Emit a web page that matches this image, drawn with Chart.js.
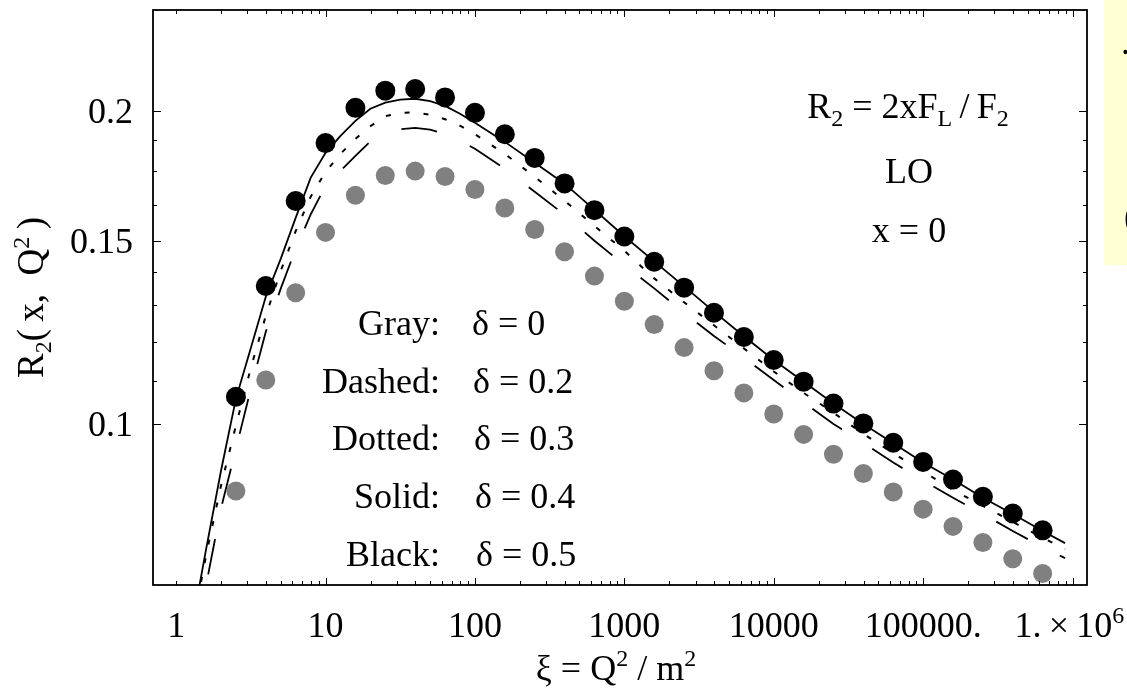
<!DOCTYPE html>
<html><head><meta charset="utf-8">
<script src="https://cdn.jsdelivr.net/npm/chart.js@4/dist/chart.umd.min.js"></script>
<style>html,body{margin:0;padding:0;background:#fff;}canvas{display:block;}</style>
</head><body>
<canvas id="c" width="1127" height="695"></canvas>
<script>
// ---- data ----
const dotXi = [2.512, 3.981, 6.310, 10, 15.85, 25.12, 39.81, 63.10, 100, 158.5, 251.2, 398.1, 631.0, 1000, 1585, 2512, 3981, 6310, 10000, 15850, 25120, 39810, 63100, 100000, 158500, 251200, 398100, 631000];
const blackR = [0.1062, 0.1357, 0.1638, 0.1862, 0.2013, 0.2091, 0.2099, 0.2060, 0.1991, 0.1899, 0.1802, 0.1703, 0.1605, 0.1514, 0.1432, 0.1352, 0.1279, 0.1212, 0.1152, 0.1098, 0.1046, 0.1001, 0.0959, 0.0919, 0.0884, 0.0851, 0.0820, 0.0790];
const grayR = [0.0862, 0.1102, 0.1337, 0.1528, 0.1659, 0.1733, 0.1750, 0.1729, 0.1680, 0.1613, 0.1538, 0.1464, 0.1387, 0.1312, 0.1246, 0.1184, 0.1125, 0.1071, 0.1022, 0.0977, 0.0935, 0.0896, 0.0860, 0.0828, 0.0797, 0.0769, 0.0742, 0.0718];
const lineXi = [1.318, 1.585, 1.995, 2.512, 3.162, 3.981, 5.012, 6.310, 7.943, 10, 12.59, 15.85, 19.95, 25.12, 31.62, 39.81, 50.12, 63.10, 79.43, 100, 158.5, 251.2, 398.1, 631.0, 1000, 1585, 2512, 3981, 6310, 10000, 15850, 25120, 39810, 63100, 100000, 158500, 251200, 398100, 631000, 891000];
const solidR = [0.0655, 0.0757, 0.0901, 0.1057, 0.1183, 0.1325, 0.1441, 0.1578, 0.1724, 0.1822, 0.1892, 0.1956, 0.2009, 0.2036, 0.2050, 0.2054, 0.2043, 0.2022, 0.1987, 0.1948, 0.1867, 0.1783, 0.1702, 0.1606, 0.1515, 0.1433, 0.1356, 0.1282, 0.1214, 0.1152, 0.1098, 0.1046, 0.1000, 0.0958, 0.0918, 0.0884, 0.0849, 0.0819, 0.0789, 0.0768];
const dottedR = [0.0649, 0.0747, 0.0872, 0.0996, 0.1132, 0.1270, 0.1403, 0.1532, 0.1653, 0.1747, 0.1818, 0.1880, 0.1933, 0.1976, 0.1991, 0.1993, 0.1982, 0.1963, 0.1935, 0.1899, 0.1818, 0.1728, 0.1639, 0.1550, 0.1467, 0.1380, 0.1309, 0.1244, 0.1182, 0.1123, 0.1071, 0.1025, 0.0978, 0.0937, 0.0900, 0.0864, 0.0834, 0.0805, 0.0777, 0.0758];
const dashedR = [0.0613, 0.0699, 0.0829, 0.0946, 0.1081, 0.1226, 0.1349, 0.1473, 0.1589, 0.1694, 0.1751, 0.1810, 0.1869, 0.1901, 0.1920, 0.1926, 0.1918, 0.1901, 0.1871, 0.1839, 0.1759, 0.1672, 0.1589, 0.1500, 0.1421, 0.1350, 0.1279, 0.1215, 0.1158, 0.1102, 0.1049, 0.1000, 0.0959, 0.0918, 0.0882, 0.0849, 0.0819, 0.0789, 0.0761, 0.0743];

const xTickValues = [1, 10, 100, 1000, 10000, 100000, 1000000];
const xTickLabels = ['1', '10', '100', '1000', '10000', '100000.', '1.\u2009×\u200910^6'];
const yTickValues = [0.1, 0.15, 0.2];
const yTickLabels = ['0.1', '0.15', '0.2'];
const yMinorTicks = [0.11, 0.12, 0.13, 0.14, 0.1625, 0.175, 0.1875];
const legendNames = ['Gray:', 'Dashed:', 'Dotted:', 'Solid:', 'Black:'];
const legendDeltas = ['0', '0.2', '0.3', '0.4', '0.5'];

// ---- helpers ----
const FONT = '"Liberation Serif", "DejaVu Serif", serif';
function rich(ctx, parts, x, y, align, size) {
  const big = size + 'px ' + FONT;
  const small = Math.round(size * 0.66) + 'px ' + FONT;
  let w = 0;
  parts.forEach(p => { ctx.font = p[1] ? small : big; w += ctx.measureText(p[0]).width; });
  let cx = align === 'center' ? x - w / 2 : (align === 'right' ? x - w : x);
  ctx.textAlign = 'left';
  ctx.textBaseline = 'alphabetic';
  parts.forEach(p => {
    ctx.font = p[1] ? small : big;
    const dy = p[1] === 'sub' ? size * 0.22 : (p[1] === 'sup' ? -size * 0.38 : 0);
    ctx.fillText(p[0], cx, y + dy);
    cx += ctx.measureText(p[0]).width;
  });
}

const decor = {
  id: 'decor',
  afterDraw(chart) {
    const ctx = chart.ctx, a = chart.chartArea;
    const xs = chart.scales.x, ys = chart.scales.y;
    ctx.save();
    ctx.fillStyle = '#000';
    ctx.strokeStyle = '#000';
    // ticks
    ctx.lineWidth = 1;
    ctx.beginPath();
    for (let d = 0; d <= 6; d++) {
      for (let m = 1; m <= 9; m++) {
        const v = m * Math.pow(10, d);
        if (v > xs.max) continue;
        const px = Math.round(xs.getPixelForValue(v)) + 0.5;
        const len = (m === 1 && d > 0) ? 7 : 4;
        ctx.moveTo(px, a.bottom); ctx.lineTo(px, a.bottom - len);
        ctx.moveTo(px, a.top); ctx.lineTo(px, a.top + len);
      }
    }
    yTickValues.forEach(v => {
      const py = Math.round(ys.getPixelForValue(v)) + 0.5;
      ctx.moveTo(a.left, py); ctx.lineTo(a.left + 8, py);
      ctx.moveTo(a.right, py); ctx.lineTo(a.right - 8, py);
    });
    yMinorTicks.forEach(v => {
      const py = Math.round(ys.getPixelForValue(v)) + 0.5;
      ctx.moveTo(a.left, py); ctx.lineTo(a.left + 4, py);
      ctx.moveTo(a.right, py); ctx.lineTo(a.right - 4, py);
    });
    ctx.stroke();
    // frame
    ctx.lineWidth = 1.8;
    ctx.strokeRect(a.left, a.top, a.right - a.left, a.bottom - a.top);

    // x tick labels
    xTickValues.forEach((v, i) => {
      const px = xs.getPixelForValue(v);
      const t = xTickLabels[i];
      if (t.indexOf('^') >= 0) {
        const [base, ex] = t.split('^');
        rich(ctx, [[base], [ex, 'sup']], px - 58, 637, 'left', 36);
      } else {
        rich(ctx, [[t]], px, 637, 'center', 36);
      }
    });
    // y tick labels
    yTickValues.forEach((v, i) => {
      const py = ys.getPixelForValue(v);
      rich(ctx, [[yTickLabels[i]]], 133, py + 12, 'right', 36);
    });
    // axis titles
    rich(ctx, [['ξ = Q'], ['2', 'sup'], [' / m'], ['2', 'sup']], (a.left + a.right) / 2 - 4, 680, 'center', 36);
    ctx.save();
    ctx.translate(43, (a.top + a.bottom) / 2);
    ctx.rotate(-Math.PI / 2);
    rich(ctx, [['R'], ['2', 'sub'], ['(\u2009x,  Q'], ['2', 'sup'], ['\u2009)']], 0, 0, 'center', 37);
    ctx.restore();

    // annotations
    rich(ctx, [['R'], ['2', 'sub'], [' = 2xF'], ['L', 'sub'], ['\u2009/\u2009F'], ['2', 'sub']], 908, 118, 'center', 36);
    rich(ctx, [['LO']], 909, 183, 'center', 36);
    rich(ctx, [['x = 0']], 909, 242, 'center', 36);

    // legend text
    legendNames.forEach((n, i) => {
      const by = 335 + i * 57.7;
      rich(ctx, [[n]], 440, by, 'right', 36);
      rich(ctx, [['δ = ' + legendDeltas[i]]], 472 + i, by, 'left', 36);
    });

    // clipped side panel
    ctx.fillStyle = '#FFFFD2';
    ctx.fillRect(1104, 0, 23, 265);
    ctx.fillStyle = '#000';
    rich(ctx, [['.']], 1121, 54, 'left', 36);
    rich(ctx, [['(']], 1124, 228, 'left', 36);
    ctx.restore();
  }
};

new Chart(document.getElementById('c'), {
  type: 'scatter',
  data: {
    datasets: [
      { label: 'Black', data: dotXi.map((x, i) => ({ x, y: blackR[i] })), backgroundColor: '#000', borderWidth: 0, pointRadius: 10, pointHoverRadius: 10 },
      { label: 'Gray', data: dotXi.map((x, i) => ({ x, y: grayR[i] })), backgroundColor: '#808080', borderWidth: 0, pointRadius: 9.5, pointHoverRadius: 9.5 },
      { label: 'Solid', data: lineXi.map((x, i) => ({ x, y: solidR[i] })), showLine: true, borderColor: '#000', borderWidth: 1.8, pointRadius: 0, tension: 0 },
      { label: 'Dotted', data: lineXi.map((x, i) => ({ x, y: dottedR[i] })), showLine: true, borderColor: '#000', borderWidth: 2, borderDash: [5, 14], pointRadius: 0, tension: 0 },
      { label: 'Dashed', data: lineXi.map((x, i) => ({ x, y: dashedR[i] })), showLine: true, borderColor: '#000', borderWidth: 1.8, borderDash: [36, 36], pointRadius: 0, tension: 0 }
    ]
  },
  options: {
    responsive: false,
    animation: false,
    devicePixelRatio: 1,
    layout: { padding: { left: 153, top: 8, right: 40, bottom: 110 } },
    plugins: { legend: { display: false }, tooltip: { enabled: false } },
    scales: {
      x: { type: 'logarithmic', min: 0.7, max: 1250000, display: false },
      y: { type: 'logarithmic', min: 0.07, max: 0.25, display: false }
    }
  },
  plugins: [decor]
});
</script>
</body></html>
